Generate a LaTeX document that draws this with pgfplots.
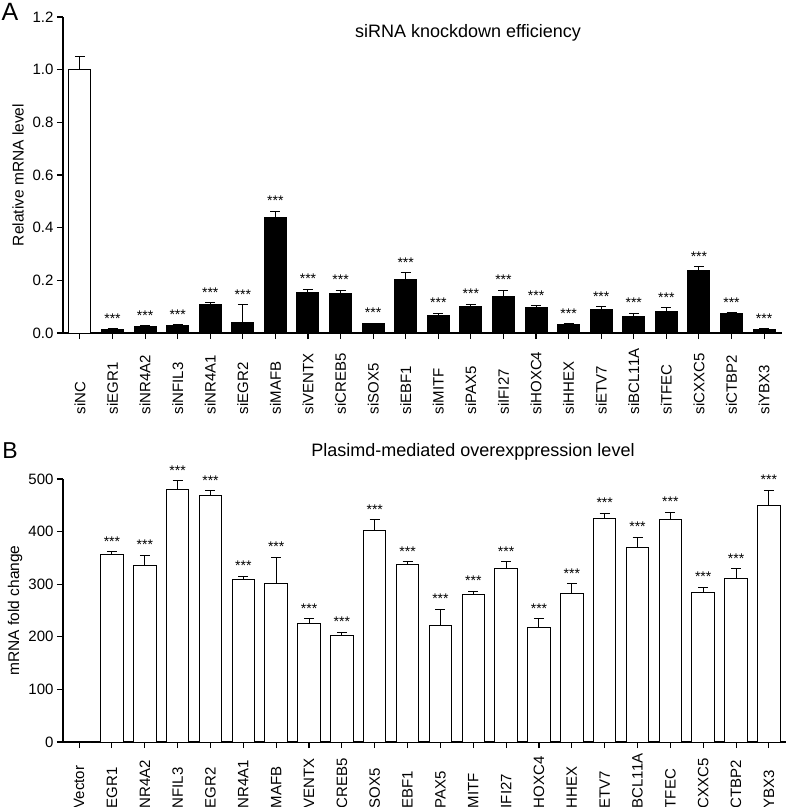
\documentclass[border=0pt]{standalone}
\usepackage{pgfplots}
\pgfplotsset{compat=1.18}
\usepackage{pgfplotstable}
\usepackage{fontspec}
\setmainfont{Liberation Sans}

\pgfplotstableread{
x y e
0 1.000 0.050
1 0.015 0.002
2 0.025 0.002
3 0.028 0.004
4 0.110 0.004
5 0.040 0.067
6 0.439 0.023
7 0.153 0.013
8 0.151 0.012
9 0.035 0.002
10 0.203 0.026
11 0.066 0.009
12 0.100 0.010
13 0.140 0.023
14 0.095 0.008
15 0.033 0.002
16 0.090 0.009
17 0.061 0.014
18 0.082 0.014
19 0.238 0.013
20 0.073 0.004
21 0.014 0.002
}\dataA

\pgfplotstableread{
x y e
0 0 0
1 356 6
2 336 19
3 481 16
4 468 10
5 309 6
6 301 50
7 226 8
8 202 7
9 403 20
10 338 5
11 222 30
12 280 7
13 329 14
14 217 17
15 282 19
16 424 11
17 369 20
18 423 14
19 284 10
20 310 19
21 449 30
}\dataB

\pgfplotsset{
  panel/.style={
    scale only axis, clip=false,
    axis lines=left, axis line style={-, line width=1.1pt, black},
    tick align=outside, major tick length=6pt,
    tick style={line width=1.1pt, black},
    /pgf/number format/assume math mode=true,
    ticklabel style={font=\fontsize{15}{18}\selectfont},
    xtick={0,...,21},
    xticklabel style={rotate=90, anchor=east, text width=75pt, align=left, inner sep=0pt},
  },
  barA/.style={ybar, bar shift=0pt, bar width=22pt, draw=black, line width=1pt,
    error bars/y dir=plus, error bars/y explicit,
    error bars/error bar style={line width=1pt, black},
    error bars/error mark options={line width=1pt, black, mark size=5pt, rotate=90}},
  stars/.style={only marks, mark=*, mark size=0pt, mark options={opacity=0, draw=none, fill=none},
    nodes near coords={***},
    every node near coord/.append style={anchor=base, yshift=5.5pt, inner sep=0pt, opacity=1, font=\fontsize{14}{16}\selectfont, black}},
}

\begin{document}
\begin{tikzpicture}
\useasboundingbox (0,0) rectangle (787pt,-807pt);

\begin{axis}[panel,
  at={(63pt,-333pt)}, anchor=south west,
  width=719pt, height=316pt,
  xmin=-0.52, xmax=21.55, ymin=0, ymax=1.2,
  ytick={0,0.2,0.4,0.6,0.8,1.0,1.2},
  yticklabel style={/pgf/number format/.cd, fixed, fixed zerofill, precision=1},
  xticklabels={siNC,siEGR1,siNR4A2,siNFIL3,siNR4A1,siEGR2,siMAFB,siVENTX,siCREB5,siSOX5,siEBF1,siMITF,siPAX5,siIFI27,siHOXC4,siHHEX,siETV7,siBCL11A,siTFEC,siCXXC5,siCTBP2,siYBX3},
  ylabel={Relative mRNA level},
  every axis y label/.style={at={([xshift=-45pt]rel axis cs:0,0.5)}, rotate=90, anchor=center, font=\fontsize{15.5}{18}\selectfont},
]
\addplot[barA, fill=white, skip coords between index={1}{22}] table[x=x, y=y, y error=e] {\dataA};
\addplot[barA, fill=black, skip coords between index={0}{1}] table[x=x, y=y, y error=e] {\dataA};
\addplot[stars, skip coords between index={0}{1}] table[x=x, y expr=\thisrow{y}+\thisrow{e}] {\dataA};
\end{axis}

\begin{axis}[panel,
  at={(63pt,-742pt)}, anchor=south west,
  width=723pt, height=263pt,
  xmin=-0.49, xmax=21.52, ymin=0, ymax=500,
  ytick={0,100,200,300,400,500},
  xticklabel style={text width=60pt},
  xticklabels={Vector,EGR1,NR4A2,NFIL3,EGR2,NR4A1,MAFB,VENTX,CREB5,SOX5,EBF1,PAX5,MITF,IFI27,HOXC4,HHEX,ETV7,BCL11A,TFEC,CXXC5,CTBP2,YBX3},
  ylabel={mRNA fold change},
  every axis y label/.style={at={([xshift=-48pt]rel axis cs:0,0.5)}, rotate=90, anchor=center, font=\fontsize{15.5}{18}\selectfont},
]
\addplot[barA, fill=white, bar width=22.5pt] table[x=x, y=y, y error=e] {\dataB};
\addplot[stars, skip coords between index={0}{1}] table[x=x, y expr=\thisrow{y}+\thisrow{e}] {\dataB};
\end{axis}

\node[font=\fontsize{25}{28}\selectfont, anchor=center] at (10pt,-12pt) {A};
\node[font=\fontsize{18}{21}\selectfont, anchor=center] at (468pt,-33pt) {siRNA knockdown efficiency};
\node[font=\fontsize{23}{26}\selectfont, anchor=center] at (10pt,-451pt) {B};
\node[font=\fontsize{18}{21}\selectfont, anchor=center] at (473pt,-452pt) {Plasimd-mediated overexppression level};
\end{tikzpicture}
\end{document}
